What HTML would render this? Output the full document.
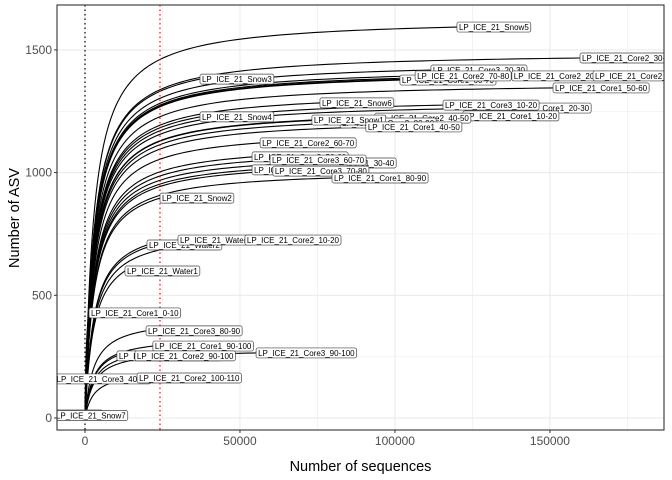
<!DOCTYPE html>
<html><head><meta charset="utf-8">
<style>
body{margin:0;background:#fff;}
svg{display:block;font-family:"Liberation Sans",sans-serif;}
</style></head>
<body>
<svg id="chart" width="672" height="480"></svg>
<script>
const names=["LP_ICE_21_Snow5","LP_ICE_21_Core2_30-40","LP_ICE_21_Core3_20-30","LP_ICE_21_Snow3","LP_ICE_21_Core1_60-70","LP_ICE_21_Core2_70-80","LP_ICE_21_Core2_20-30","LP_ICE_21_Core2_50-60","LP_ICE_21_Core1_50-60","LP_ICE_21_Snow6","LP_ICE_21_Core1_20-30","LP_ICE_21_Core3_10-20","LP_ICE_21_Snow4","LP_ICE_21_Core1_10-20","LP_ICE_21_Core2_40-50","LP_ICE_21_Core2_80-90","LP_ICE_21_Snow1","LP_ICE_21_Core1_40-50","LP_ICE_21_Core2_60-70","LP_ICE_21_Core3_50-60","LP_ICE_21_Core1_30-40","LP_ICE_21_Core3_60-70","LP_ICE_21_Core3_30-40","LP_ICE_21_Core3_70-80","LP_ICE_21_Core1_80-90","LP_ICE_21_Snow2","LP_ICE_21_Water2","LP_ICE_21_Water3","LP_ICE_21_Core2_10-20","LP_ICE_21_Water1","LP_ICE_21_Core1_0-10","LP_ICE_21_Core3_80-90","LP_ICE_21_Core1_90-100","LP_ICE_21_Core1_100-110","LP_ICE_21_Core2_90-100","LP_ICE_21_Core3_90-100","LP_ICE_21_Core3_40-50","LP_ICE_21_Core2_100-110","LP_ICE_21_Core3_0-10","LP_ICE_21_Snow7"];
const depths=[120000,159700,111600,37100,101600,106500,137700,163900,151000,75800,132300,115500,37100,121900,93500,82300,73200,90600,56500,53900,69400,59700,53900,60600,79700,24200,20000,30000,51600,12900,1300,19700,21900,10300,16100,55200,500,16800,400,300];
const richness=[1593,1467,1418,1381,1377,1394,1394,1394,1345,1284,1263,1275,1227,1231,1222,1202,1214,1186,1121,1064,1039,1051,1011,1006,978,896,705,725,725,599,428,355,293,253,253,265,159,163,12,10];
const xTicks=[0,50000,100000,150000];
const yTicks=[0,500,1000,1500];
const xTickLabels=["0","50000","100000","150000"];
const yTickLabels=["0","500","1000","1500"];
const minDepth=0, rareDepth=24200;

const NS="http://www.w3.org/2000/svg";
const svg=document.getElementById('chart');
const P={l:57,r:664,t:5,b:430};
const xMin=-9030,xMax=186800,yMin=-49,yMax=1683;
const X=v=>P.l+(v-xMin)/(xMax-xMin)*(P.r-P.l);
const Y=v=>P.b-(v-yMin)/(yMax-yMin)*(P.b-P.t);
const labelNudge={"LP_ICE_21_Snow7":-32,"LP_ICE_21_Core3_40-50":-32,"LP_ICE_21_Core3_0-10":-75};
function el(tag,attrs,parent){const e=document.createElementNS(NS,tag);for(const k in attrs)e.setAttribute(k,attrs[k]);(parent||svg).appendChild(e);return e;}
const defs=el('defs',{});
const cp=el('clipPath',{id:'clip'},defs);el('rect',{x:P.l,y:P.t,width:P.r-P.l,height:P.b-P.t},cp);
const grid=el('g',{});


for(let v=-25000;v<=200000;v+=25000){const x=X(v);if(x<P.l||x>P.r)continue;el('line',{x1:x,x2:x,y1:P.t,y2:P.b,stroke:'#ebebeb','stroke-width':v%50000===0?1.1:0.6},grid);}
for(let v=-250;v<=1750;v+=250){const y=Y(v);if(y<P.t||y>P.b)continue;el('line',{x1:P.l,x2:P.r,y1:y,y2:y,stroke:'#ebebeb','stroke-width':v%500===0?1.1:0.6},grid);}
const curves=el('g',{'clip-path':'url(#clip)'});


names.forEach((n,i)=>{
  const end=depths[i],S=richness[i],K=Math.min(2800,end*0.3+50);
  const norm=end/(end+K);let d='';
  for(let s=0;s<=80;s++){const v=end*Math.pow(s/80,2);const r=S*(v/(v+K))/norm;d+=(s?'L':'M')+X(v).toFixed(2)+','+Y(r).toFixed(2);}
  const p=el('path',{d:d,fill:'none',stroke:'#000','stroke-width':1.1},curves);
  
  
});
const v1=el('line',{x1:X(minDepth),x2:X(minDepth),y1:P.t,y2:P.b,stroke:'#000','stroke-dasharray':'1.5,3','stroke-width':1.2});


const v2=el('line',{x1:X(rareDepth),x2:X(rareDepth),y1:P.t,y2:P.b,stroke:'#ff0000','stroke-dasharray':'1.5,3','stroke-width':1.2});


const labels=el('g',{'clip-path':'url(#clip)'});
names.forEach((n,i)=>{
  const x=X(depths[i])+(labelNudge[n]||0),y=Y(richness[i]);
  const g=el('g',{},labels);
  
  
  const t=el('text',{x:x+2,y:y+3,'font-size':'8px',fill:'#000'},g);
  t.textContent=n;
  const w=t.getComputedTextLength();
  const r=el('rect',{x:x,y:y-5,width:w+4,height:10,rx:2,fill:'#fff',stroke:'#444','stroke-width':0.7});
  g.insertBefore(r,t);
});
const border=el('rect',{x:P.l,y:P.t,width:P.r-P.l,height:P.b-P.t,fill:'none',stroke:'#333','stroke-width':1.1});


xTicks.forEach((v,i)=>{const x=X(v);el('line',{x1:x,x2:x,y1:P.b,y2:P.b+3,stroke:'#333'});
  const t=el('text',{x:x,y:P.b+15,'font-size':'12px',fill:'#4d4d4d','text-anchor':'middle'});t.textContent=xTickLabels[i];
  
  });
yTicks.forEach((v,i)=>{const y=Y(v);el('line',{x1:P.l-3,x2:P.l,y1:y,y2:y,stroke:'#333'});
  const t=el('text',{x:P.l-5,y:y+4,'font-size':'12px',fill:'#4d4d4d','text-anchor':'end'});t.textContent=yTickLabels[i];
  
  });
const xt=el('text',{x:(P.l+P.r)/2,y:471,'font-size':'14.5px',fill:'#000','text-anchor':'middle'});xt.textContent='Number of sequences';


const yt=el('text',{x:0,y:0,'font-size':'14.5px',fill:'#000','text-anchor':'middle',transform:'translate(19,218) rotate(-90)'});yt.textContent='Number of ASV';


</script>
</body></html>
